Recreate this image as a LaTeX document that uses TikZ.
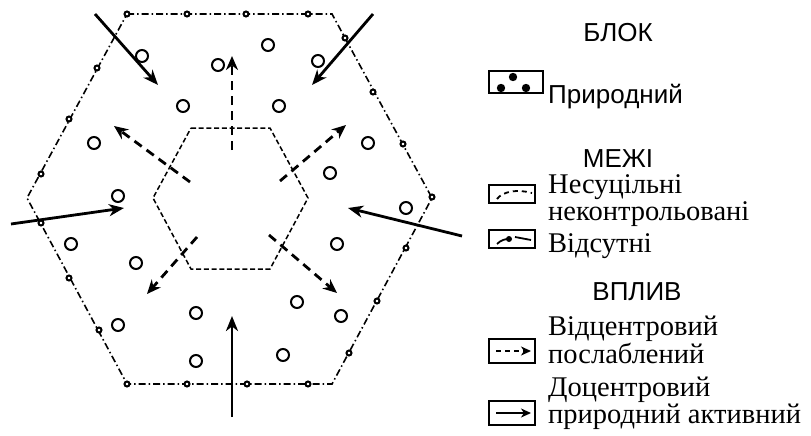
\documentclass[tikz,border=0pt]{standalone}
\usepackage{fontspec}
\setmainfont{Liberation Serif}
\setsansfont{Liberation Sans}
\usetikzlibrary{arrows.meta}
\begin{document}
\begin{tikzpicture}[x=1pt,y=-1pt,
  outerb/.style={line width=1.6pt, dash pattern=on 7pt off 3pt on 1.5pt off 3pt},
  innerb/.style={line width=1.5pt, dash pattern=on 5pt off 2.7pt},
  bpt/.style={circle, draw, line width=2pt, inner sep=0pt, minimum size=5pt, fill=white},
  obj/.style={circle, draw, line width=2pt, inner sep=0pt, minimum size=12pt},
  inarrow/.style={line width=2.8pt, -{Stealth[length=15pt,width=12pt,inset=4.5pt]}},
  outarrow/.style={line width=2.8pt, dash pattern=on 9pt off 6pt, -{Stealth[length=14pt,width=12pt,inset=4.5pt]}},
  lbox/.style={draw, line width=1.8pt, inner sep=0pt, minimum width=46pt},
  hdr/.style={font=\sffamily\fontsize{26}{28}\selectfont, anchor=base, inner sep=0pt},
  stxt/.style={font=\sffamily\fontsize{26}{28}\selectfont, anchor=base west, inner sep=0pt},
  rtxt/.style={font=\fontsize{28.5}{25.5}\selectfont, anchor=base west, align=left, inner sep=0pt},
]
\useasboundingbox (0,0) rectangle (811,436);
% outer hexagon
\coordinate (O1) at (127,14);
\coordinate (O2) at (332,14);
\coordinate (O3) at (432,198);
\coordinate (O4) at (332,384);
\coordinate (O5) at (127,384);
\coordinate (O6) at (27,198);
\draw[outerb] (O1) -- (O2) -- (O3) -- (O4) -- (O5) -- (O6) -- cycle;
% inner hexagon
\coordinate (I1) at (191,128);
\coordinate (I2) at (270,128);
\coordinate (I3) at (308,198);
\coordinate (I4) at (270,269);
\coordinate (I5) at (191,269);
\coordinate (I6) at (153,198);
\draw[innerb] (I1) -- (I2) -- (I3) -- (I4) -- (I5) -- (I6) -- cycle;
% boundary points
\foreach \p [count=\i] in {(127,14),(187,14),(246,14),(308,14),
  (345,38),(373,92),(403,144),(432,197),
  (406,248),(377,301),(349,353),
  (308,384),(247,384),(187,384),(127,384),
  (99,330),(69,278),(41,223),
  (41,174),(69,119),(97,68)}
  \node[bpt] (b\i) at \p {};
% objects
\foreach \p [count=\i] in {(142,56),(218,65),(183,106),(94,143),
  (268,45),(318,61),(279,106),(368,143),
  (118,196),(71,244),(136,263),
  (330,173),(406,208),(337,244),
  (118,325),(196,313),(196,361),
  (297,302),(283,355),(341,316)}
  \node[obj] (c\i) at \p {};
% inward arrows
\coordinate (a1s) at (95,14);   \coordinate (a1e) at (158,85);
\coordinate (a2s) at (373,14);  \coordinate (a2e) at (312,85);
\coordinate (a3s) at (11,224);  \coordinate (a3e) at (124,208);
\coordinate (a4s) at (462,236); \coordinate (a4e) at (348,208);
\coordinate (a5s) at (232,417); \coordinate (a5e) at (232,316);
\foreach \i in {1,...,5} \draw[inarrow] (a\i s) -- (a\i e);
% outward arrows
\coordinate (d1s) at (232,150); \coordinate (d1e) at (232,56);
\coordinate (d2s) at (190,182); \coordinate (d2e) at (114,126);
\coordinate (d3s) at (280,181); \coordinate (d3e) at (346,125);
\coordinate (d4s) at (197,237); \coordinate (d4e) at (147,294);
\coordinate (d5s) at (269,235); \coordinate (d5e) at (337,293);
\foreach \i in {1,...,5} \draw[outarrow] (d\i s) -- (d\i e);
% legend
\node[hdr] (hb) at (618,42) {БЛОК};
\node[lbox, minimum height=22pt, minimum width=54pt] (l1) at (516,82) {};
\fill (501,88) circle (4.2pt) (513,77) circle (4.2pt) (526,88) circle (4.2pt);
\node[stxt] (t1) at (548,103) {Природний};
\node[hdr] (hm) at (618,167) {МЕЖІ};
\node[lbox, minimum height=18pt] (l2) at (512,194) {};
\draw[line width=1.8pt, dash pattern=on 5pt off 4pt] (497,199) .. controls (503,191) and (518,189) .. (532,193);
\node[rtxt] (t2) at (548,220) {Несуцільні\\[1.5pt]неконтрольовані};
\node[lbox, minimum height=18pt] (l3) at (512,239) {};
\draw[line width=1.8pt] (497,244) .. controls (501,240) and (505,239) .. (509,239);
\fill (509,239) circle (3pt);
\draw[line width=1.8pt] (515,237) -- (531,240);
\node[rtxt] (t4) at (548,252) {Відсутні};
\node[hdr] (hv) at (637,300) {ВПЛИВ};
\node[lbox, minimum height=24pt] (l4) at (512,351) {};
\draw[line width=2pt, dash pattern=on 5pt off 4pt, -{Stealth[length=10pt,width=9pt,inset=3pt]}] (496,351) -- (531,351);
\node[rtxt] (t5) at (548,363) {Відцентровий\\послаблений};
\node[lbox, minimum height=24pt] (l5) at (512,413) {};
\draw[line width=2pt, -{Stealth[length=10pt,width=9pt,inset=3pt]}] (496,413) -- (531,413);
\node[rtxt] (t7) at (548,423) {Доцентровий\\природний активний};
\end{tikzpicture}
\end{document}
